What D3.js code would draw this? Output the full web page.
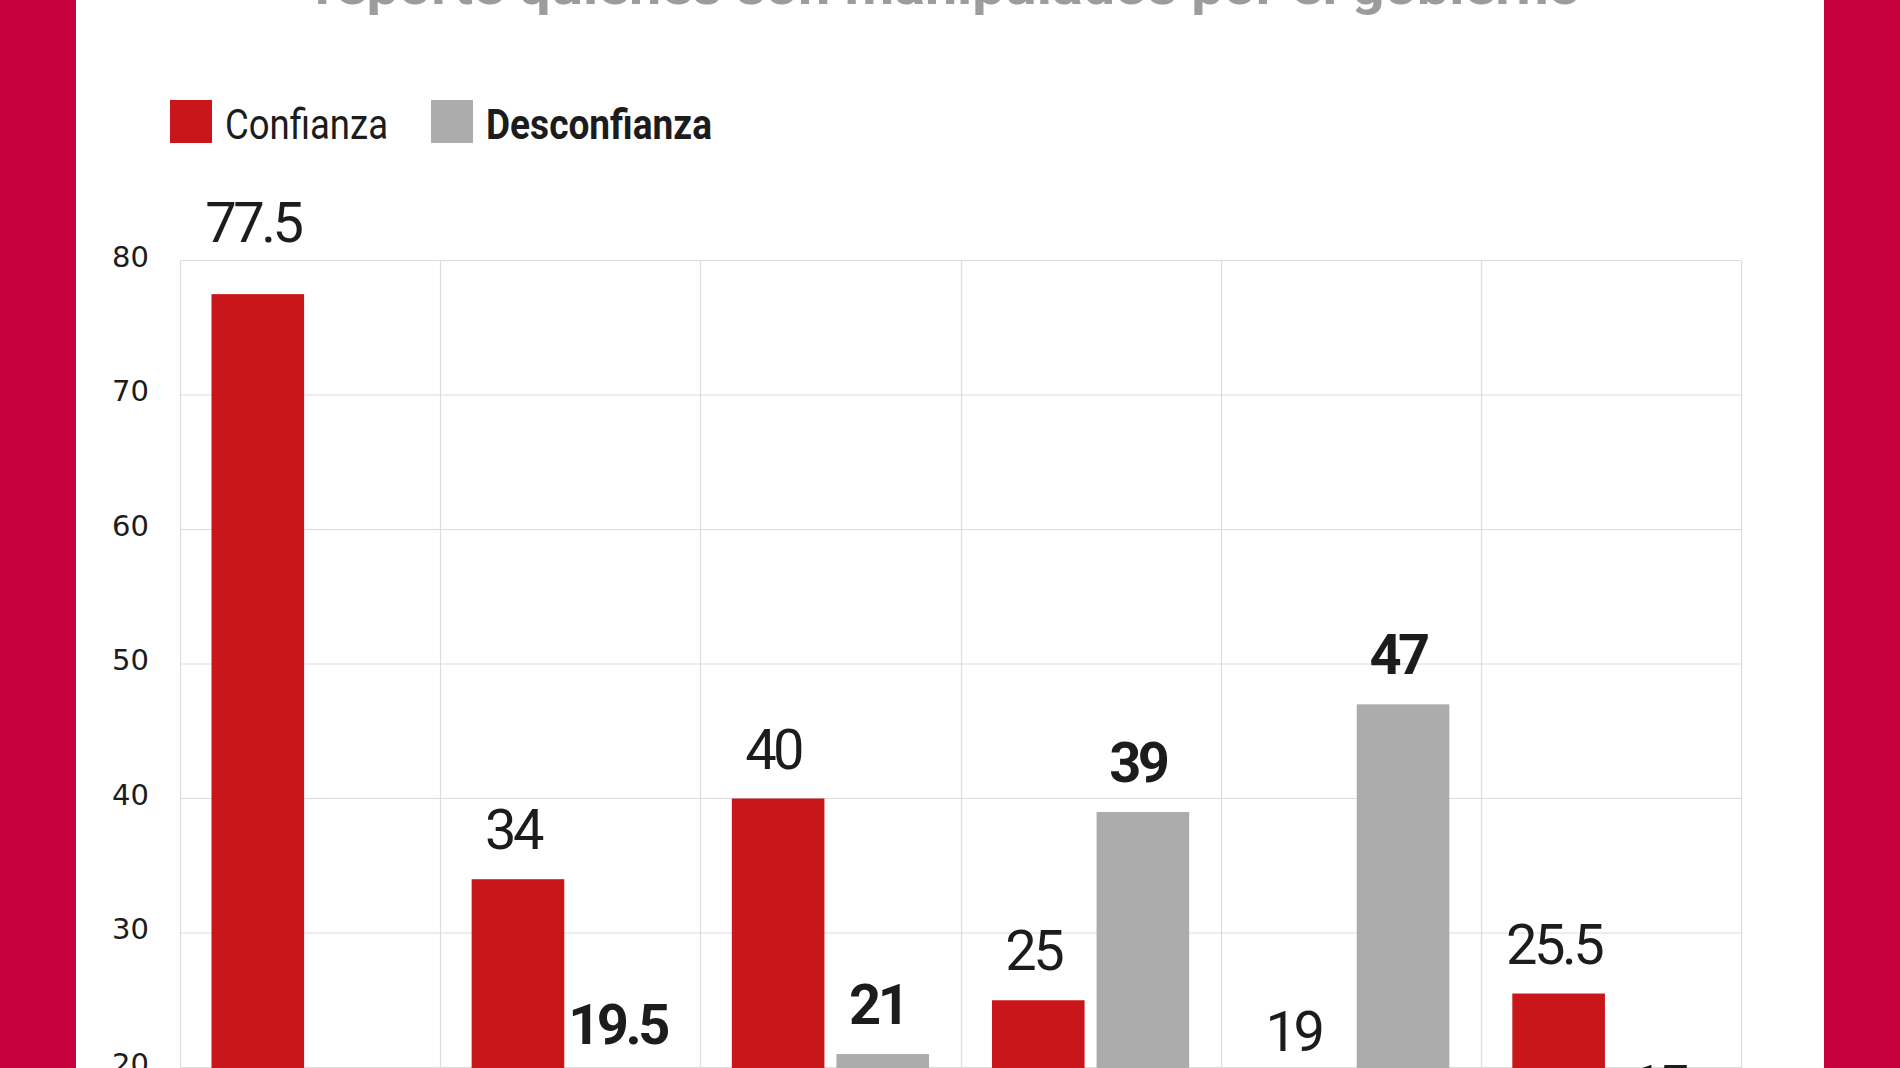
<!DOCTYPE html>
<html>
<head>
<meta charset="utf-8">
<script src="https://cdn.jsdelivr.net/npm/d3@7"></script>
<style>
  html, body { margin: 0; padding: 0; background: #fff; }
  svg { display: block; }
</style>
</head>
<body>
<svg id="chart" width="1900" height="1068"></svg>
<script>
// ---- data ----
const title = "reporte quienes son manipulados por el gobierno";
const categories = ["g1", "g2", "g3", "g4", "g5", "g6"];
const seriesNames = ["Confianza", "Desconfianza"];
const confianza = [77.5, 34, 40, 25, 19, 25.5];
const desconfianza = [8, 19.5, 21, 39, 47, 15];
const yTicks = [0, 10, 20, 30, 40, 50, 60, 70, 80];

// ---- styles ----
const W = 1900, H = 1068;
const borderColor = "#c5003c";
const colors = { Confianza: "#c8161a", Desconfianza: "#acacac" };
const gridColor = "#dcdcdc";
const textColor = "#1c1c1c";

const svg = d3.select("#chart");

// page frame
svg.append("rect").attr("x", 0).attr("y", 0).attr("width", W).attr("height", H).attr("fill", "#fff");
svg.append("rect").attr("x", 0).attr("y", 0).attr("width", 76).attr("height", H).attr("fill", borderColor);
svg.append("rect").attr("x", 1824).attr("y", 0).attr("width", 76).attr("height", H).attr("fill", borderColor);

// title (partially cut at the top)
svg.append("text")
  .attr("x", 315).attr("y", 4)
  .attr("textLength", 1266).attr("lengthAdjust", "spacingAndGlyphs")
  .attr("font-family", "Roboto, sans-serif").attr("font-weight", 700)
  .attr("font-size", 52).attr("fill", "#9c9c9c")
  .text(title);

// scales
const plotLeft = 180, plotRight = 1741;
const x = d3.scaleBand().domain(categories).range([plotLeft, plotRight]).paddingInner(0).paddingOuter(0);
const xs = d3.scaleBand().domain(seriesNames).range([0, x.bandwidth()]).paddingInner(0.1147).paddingOuter(0.301);
const y = d3.scaleLinear().domain([0, 80]).range([1336.5, 260.5]);

// grid
const g = svg.append("g");
g.selectAll("line.h").data(yTicks).join("line")
  .attr("x1", plotLeft).attr("x2", plotRight)
  .attr("y1", d => y(d)).attr("y2", d => y(d))
  .attr("stroke", gridColor).attr("stroke-width", 1.2);
const edges = categories.map(c => x(c)).concat([plotRight]);
g.selectAll("line.v").data(edges).join("line")
  .attr("x1", d => Math.round(d) + 0.5).attr("x2", d => Math.round(d) + 0.5)
  .attr("y1", y(80)).attr("y2", H + 10)
  .attr("stroke", gridColor).attr("stroke-width", 1.2);

// y axis labels
const yAxis = d3.axisLeft(y).tickValues(yTicks).tickSize(0).tickPadding(0).tickFormat(d3.format("d"));
const ya = svg.append("g").attr("transform", `translate(149,0)`).call(yAxis);
ya.select(".domain").remove();
ya.selectAll("text")
  .attr("font-family", "'DejaVu Sans', sans-serif").attr("font-size", 29)
  .attr("fill", textColor).attr("dy", "0.2em");

// bars
const rows = categories.map((c, i) => ({ c, values: [
  { s: "Confianza", v: confianza[i] },
  { s: "Desconfianza", v: desconfianza[i] }
]}));

const groups = svg.append("g").selectAll("g").data(rows).join("g")
  .attr("transform", d => `translate(${x(d.c)},0)`);

groups.selectAll("rect").data(d => d.values).join("rect")
  .attr("x", d => xs(d.s)).attr("width", xs.bandwidth())
  .attr("y", d => y(d.v)).attr("height", d => y(0) - y(d.v))
  .attr("fill", d => colors[d.s]);

// value labels
const capH = 42;
function labelY(v) {
  let b = y(v) - 30;
  if (b - capH < y(80) + 2 && b > y(80) - 12) b = y(80) - 18.5;
  return b;
}
groups.selectAll("text").data(d => d.values).join("text")
  .attr("x", d => xs(d.s) + xs.bandwidth() / 2 - 5)
  .attr("y", d => labelY(d.v))
  .attr("text-anchor", "middle")
  .attr("font-family", "Roboto, sans-serif")
  .attr("font-size", 56)
  .attr("letter-spacing", "-3.5px")
  .attr("font-weight", d => d.s === "Desconfianza" ? 700 : 400)
  .attr("fill", textColor)
  .text(d => d.v);

// legend
const legend = [
  { s: "Confianza", sx: 170, tx: 225, tw: 163, weight: 400 },
  { s: "Desconfianza", sx: 431, tx: 486, tw: 226, weight: 700 }
];
const lg = svg.append("g").selectAll("g").data(legend).join("g");
lg.append("rect").attr("x", d => d.sx).attr("y", 100).attr("width", 42).attr("height", 43)
  .attr("fill", d => colors[d.s]);
lg.append("text").attr("x", d => d.tx).attr("y", 139)
  .attr("textLength", d => d.tw).attr("lengthAdjust", "spacingAndGlyphs")
  .attr("font-family", "Roboto, sans-serif").attr("font-size", 43)
  .attr("font-weight", d => d.weight).attr("fill", textColor)
  .text(d => d.s);
</script>
</body>
</html>
